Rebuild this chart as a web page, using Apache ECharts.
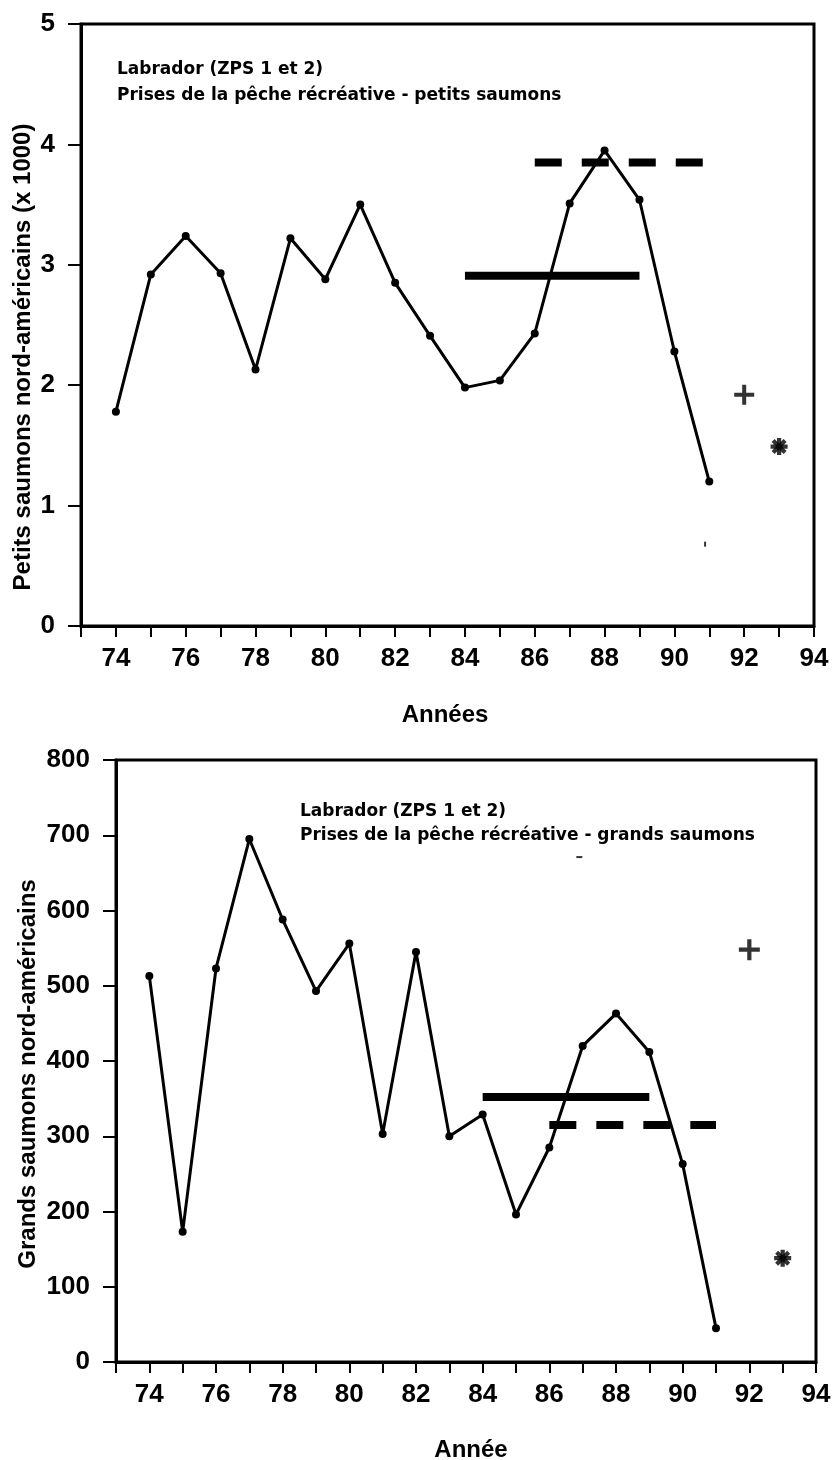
<!DOCTYPE html>
<html>
<head>
<meta charset="utf-8">
<script src="https://cdn.jsdelivr.net/npm/echarts@6/dist/echarts.min.js"></script>
<style>
html,body{margin:0;padding:0;background:#fff;}
#c{width:834px;height:1460px;}
</style>
</head>
<body>
<div id="c"></div>
<script>
// ---- data ----
const years = [74,75,76,77,78,79,80,81,82,83,84,85,86,87,88,89,90,91];
const smallSalmon = [1.78,2.92,3.24,2.93,2.13,3.22,2.88,3.50,2.85,2.41,1.98,2.04,2.43,3.51,3.95,3.54,2.28,1.20];
const largeSalmon = [513,173,523,695,588,493,556,303,545,300,329,196,285,420,463,412,263,45];
const smallMeanSolid = [[84,2.91],[89,2.91]];
const smallMeanDashed = [[86,3.85],[91,3.85]];
const largeMeanSolid = [[84,352],[89,352]];
const largeMeanDashed = [[86,315],[91,315]];
const smallPlus = [[92,1.92]];
const smallStar = [[93,1.49]];
const largePlus = [[92,548]];
const largeStar = [[93,138]];
const smallArtefact = [[90.88,0.68]];
const largeArtefact = [[86.9,671]];
const xTicks = {min:73, max:94, interval:1};
const smallTicks = {min:0, max:5, interval:1};
const largeTicks = {min:0, max:800, interval:100};

const FONT = '"Liberation Sans", Arial, sans-serif';
const pts = (xs, ys) => xs.map((x,i)=>[x, ys[i]]);
const PLUS = 'path://M8,0H12V8H20V12H12V20H8V12H0V8H8Z';
const PLUS_THICK = 'path://M7.5,0H12.5V7.5H20V12.5H12.5V20H7.5V12.5H0V7.5H7.5Z';

function xAxis(gi){
  return {
    type:'value', gridIndex:gi, min:xTicks.min, max:xTicks.max, interval:xTicks.interval,
    axisLine:{show:true, onZero:false, lineStyle:{color:'#000', width:3}},
    axisTick:{show:true, length:11, lineStyle:{color:'#000', width:2}},
    axisLabel:{color:'#000', fontFamily:FONT, fontWeight:'bold', fontSize:26, margin:20,
      formatter:v => (v % 2 === 0 ? String(v) : '')},
    splitLine:{show:false}
  };
}
function yAxis(gi, t){
  return {
    type:'value', gridIndex:gi, min:t.min, max:t.max, interval:t.interval,
    axisLine:{show:true, onZero:false, lineStyle:{color:'#000', width:3}},
    axisTick:{show:true, length:13, lineStyle:{color:'#000', width:2}},
    axisLabel:{color:'#000', fontFamily:FONT, fontWeight:'bold', fontSize:26, margin:26},
    splitLine:{show:false}
  };
}
function dataLine(xi, data){
  return {type:'line', xAxisIndex:xi, yAxisIndex:xi, data:data, symbol:'circle', symbolSize:8,
    lineStyle:{color:'#000', width:3}, itemStyle:{color:'#000'}, animation:false, z:5};
}
function meanLine(xi, data, dashed){
  return {type:'line', xAxisIndex:xi, yAxisIndex:xi, data:data, symbol:'none',
    lineStyle:{color:'#000', width:8, type: dashed ? [27,20] : 'solid', cap:'butt'}, animation:false, z:4};
}
function marker(xi, data, sym, size, rot){
  return {type:'scatter', xAxisIndex:xi, yAxisIndex:xi, data:data, symbol:sym, symbolSize:size,
    symbolRotate:rot||0, itemStyle:{color:'#000'}, animation:false, z:6};
}

const chart = echarts.init(document.getElementById('c'), null, {renderer:'canvas'});
chart.setOption({
  backgroundColor:'#fff',
  animation:false,
  grid:[
    {left:81, top:24, width:733, height:602, show:true, borderColor:'#000', borderWidth:3, backgroundColor:'transparent'},
    {left:116, top:760, width:700, height:602, show:true, borderColor:'#000', borderWidth:3, backgroundColor:'transparent'}
  ],
  xAxis:[xAxis(0), xAxis(1)],
  yAxis:[yAxis(0, smallTicks), yAxis(1, largeTicks)],
  series:[
    dataLine(0, pts(years, smallSalmon)),
    meanLine(0, smallMeanSolid, false),
    meanLine(0, smallMeanDashed, true),
    marker(0, smallPlus, PLUS, 20),
    marker(0, smallStar, PLUS_THICK, 17),
    marker(0, smallStar, PLUS_THICK, 17, 45),
    marker(0, smallArtefact, 'rect', [2,5]),
    dataLine(1, pts(years, largeSalmon)),
    meanLine(1, largeMeanSolid, false),
    meanLine(1, largeMeanDashed, true),
    marker(1, largePlus, PLUS, 21),
    marker(1, largeStar, PLUS_THICK, 17),
    marker(1, largeStar, PLUS_THICK, 17, 45),
    marker(1, largeArtefact, 'rect', [6,2])
  ],
  graphic:[
    {type:'text', left:117, top:61, style:{text:'Labrador (ZPS 1 et 2)', fill:'#000', font:'bold 17px "DejaVu Sans", sans-serif'}},
    {type:'text', left:117, top:87, style:{text:'Prises de la pêche récréative - petits saumons', fill:'#000', font:'bold 17px "DejaVu Sans", sans-serif'}},
    {type:'text', left:300, top:803, style:{text:'Labrador (ZPS 1 et 2)', fill:'#000', font:'bold 17px "DejaVu Sans", sans-serif'}},
    {type:'text', left:300, top:827, style:{text:'Prises de la pêche récréative - grands saumons', fill:'#000', font:'bold 17px "DejaVu Sans", sans-serif'}},
    {type:'text', x:23, y:357, rotation:Math.PI/2, style:{text:'Petits saumons nord-américains (x 1000)', fill:'#000', font:'bold 24px "Liberation Sans", Arial, sans-serif', align:'center', verticalAlign:'middle'}},
    {type:'text', x:28, y:1074, rotation:Math.PI/2, style:{text:'Grands saumons nord-américains', fill:'#000', font:'bold 24px "Liberation Sans", Arial, sans-serif', align:'center', verticalAlign:'middle'}},
    {type:'text', x:445, y:715, style:{text:'Années', fill:'#000', font:'bold 24px "Liberation Sans", Arial, sans-serif', align:'center', verticalAlign:'middle'}},
    {type:'text', x:471, y:1450, style:{text:'Année', fill:'#000', font:'bold 24px "Liberation Sans", Arial, sans-serif', align:'center', verticalAlign:'middle'}}
  ]
});
</script>
</body>
</html>
